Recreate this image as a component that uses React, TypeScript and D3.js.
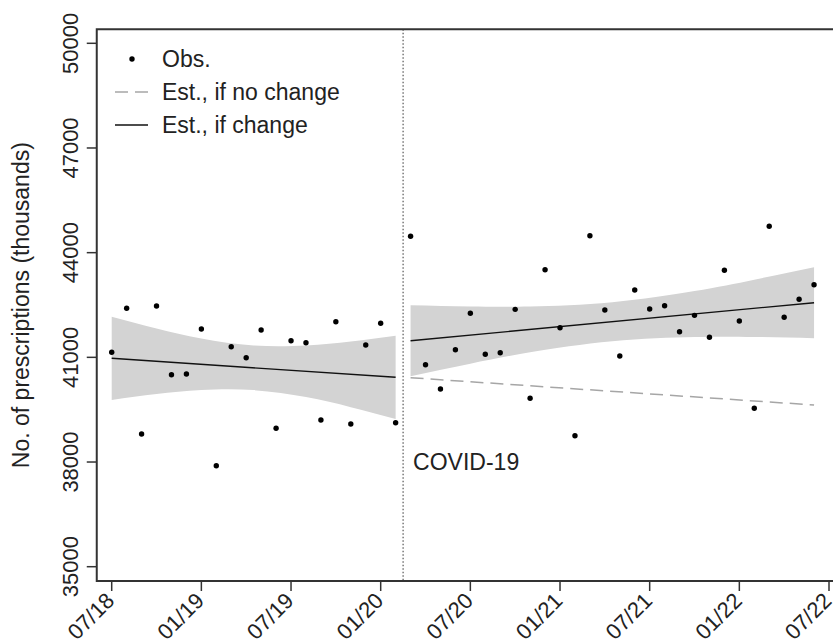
import React, { useEffect, useRef } from "react";
import * as d3 from "d3";

// monthly observations, 07/18 .. 02/20 (before) and 03/20 .. 06/22 (after)
const obsBefore = [
  41144, 42405, 38803, 42471, 40502, 40522, 41812, 37894, 41305, 40989,
  41783, 38966, 41477, 41419, 39204, 42021, 39089, 41353, 41975, 39126,
];
const obsAfter = [
  44469, 40789, 40092, 41219, 42262, 41087, 41133, 42376, 39826, 43511,
  41849, 38754, 44486, 42356, 41038, 42930, 42385, 42480, 41735, 42204,
  41574, 43494, 42041, 39539, 44755, 42147, 42663, 43081,
];

const tickLabels = ["07/18", "01/19", "07/19", "01/20", "07/20", "01/21", "07/21", "01/22", "07/22"];
const yTicks = [35000, 38000, 41000, 44000, 47000, 50000];

// fitted lines (month index -> value)
const fitBeforeX = [0, 19];
const fitBeforeY = [40972, 40428];
const fitAfterX = [20, 47];
const fitAfterY = [41477, 42566];
const noChangeY = [40416, 39634];

// confidence bands
const bandBeforeX = [0, 3, 6, 9.5, 13, 16, 19];
const bandBeforeHi = [42164, 41826, 41540, 41339, 41339, 41453, 41620];
const bandBeforeLo = [39780, 39946, 40061, 40061, 39860, 39573, 39235];
const bandAfterX = [20, 24, 28, 33.5, 39, 43, 47];
const bandAfterHi = [42494, 42457, 42457, 42580, 42898, 43225, 43583];
const bandAfterLo = [40459, 40817, 41144, 41462, 41585, 41585, 41548];

const breakAt = 19.5;

const App = () => {
  const svgRef = useRef<SVGSVGElement>(null);

  useEffect(() => {
    const width = 833;
    const height = 639;
    const font = "'Liberation Sans', Arial, sans-serif";

    const svg = d3.select(svgRef.current);
    svg.selectAll("*").remove();
    svg.attr("width", width).attr("height", height);

    const x = d3.scaleLinear().domain([0, 48]).range([111.7, 829]);
    const y = d3.scaleLinear().domain([35000, 50000]).range([566.7, 43.3]);

    const boxLeft = x(-1);
    const boxRight = x(49);
    const boxTop = 29.3;
    const boxBottom = 581;

    // bands
    const band = (xs: number[], hi: number[], lo: number[]) =>
      d3.area<number>()
        .x((d, i) => x(xs[i]))
        .y0((d, i) => y(lo[i]))
        .y1((d, i) => y(hi[i]))
        .curve(d3.curveNatural)(hi);

    svg.append("path")
      .attr("d", band(bandBeforeX, bandBeforeHi, bandBeforeLo))
      .attr("fill", "#d3d3d3");
    svg.append("path")
      .attr("d", band(bandAfterX, bandAfterHi, bandAfterLo))
      .attr("fill", "#d3d3d3");

    const line = (xs: number[], ys: number[]) =>
      d3.line<number>().x((d, i) => x(xs[i])).y(d => y(d))(ys);

    svg.append("path")
      .attr("d", line(fitAfterX, noChangeY))
      .attr("fill", "none")
      .attr("stroke", "#a6a6a6")
      .attr("stroke-width", 1.5)
      .attr("stroke-dasharray", "13,7");

    svg.append("path")
      .attr("d", line(fitBeforeX, fitBeforeY))
      .attr("fill", "none")
      .attr("stroke", "#111")
      .attr("stroke-width", 1.4);
    svg.append("path")
      .attr("d", line(fitAfterX, fitAfterY))
      .attr("fill", "none")
      .attr("stroke", "#111")
      .attr("stroke-width", 1.4);

    // break line
    svg.append("line")
      .attr("x1", x(breakAt)).attr("x2", x(breakAt))
      .attr("y1", boxTop).attr("y2", boxBottom)
      .attr("stroke", "#555")
      .attr("stroke-width", 1.2)
      .attr("stroke-dasharray", "1.5,2");

    svg.append("text")
      .attr("x", x(breakAt) + 10)
      .attr("y", y(37770))
      .style("font-family", font)
      .style("font-size", "23px")
      .attr("fill", "#222")
      .text("COVID-19");

    // points
    const obs = [
      ...obsBefore.map((v, i) => ({ m: i, v })),
      ...obsAfter.map((v, i) => ({ m: i + obsBefore.length, v })),
    ];
    svg.selectAll("circle.obs")
      .data(obs)
      .enter()
      .append("circle")
      .attr("class", "obs")
      .attr("cx", d => x(d.m))
      .attr("cy", d => y(d.v))
      .attr("r", 2.7)
      .attr("fill", "#000");

    // frame
    svg.append("path")
      .attr("d", `M${boxRight},${boxTop}H${boxLeft}V${boxBottom}H${boxRight}`)
      .attr("fill", "none")
      .attr("stroke", "#333")
      .attr("stroke-width", 2);

    // y axis
    yTicks.forEach(t => {
      svg.append("line")
        .attr("x1", boxLeft - 10).attr("x2", boxLeft)
        .attr("y1", y(t)).attr("y2", y(t))
        .attr("stroke", "#333").attr("stroke-width", 1.5);
      svg.append("text")
        .attr("transform", `translate(78,${y(t)}) rotate(-90)`)
        .attr("text-anchor", "middle")
        .style("font-family", font)
        .style("font-size", "22px")
        .attr("fill", "#222")
        .text(t);
    });

    svg.append("text")
      .attr("transform", `translate(29,${(boxTop + boxBottom) / 2}) rotate(-90)`)
      .attr("text-anchor", "middle")
      .style("font-family", font)
      .style("font-size", "23px")
      .attr("fill", "#222")
      .text("No. of prescriptions (thousands)");

    // x axis
    tickLabels.forEach((lab, i) => {
      const xp = x(i * 6);
      svg.append("line")
        .attr("x1", xp).attr("x2", xp)
        .attr("y1", boxBottom).attr("y2", boxBottom + 10)
        .attr("stroke", "#333").attr("stroke-width", 1.5);
      svg.append("text")
        .attr("transform", `translate(${xp + 4},${boxBottom + 21}) rotate(-45)`)
        .attr("text-anchor", "end")
        .style("font-family", font)
        .style("font-size", "22px")
        .attr("fill", "#222")
        .text(lab);
    });

    // legend
    const legend = svg.append("g").attr("transform", "translate(115,59)");
    legend.append("circle").attr("cx", 17).attr("cy", 0).attr("r", 2.7).attr("fill", "#000");
    legend.append("line")
      .attr("x1", 0).attr("x2", 33).attr("y1", 33).attr("y2", 33)
      .attr("stroke", "#a6a6a6").attr("stroke-width", 1.5).attr("stroke-dasharray", "13,7");
    legend.append("line")
      .attr("x1", 0).attr("x2", 33).attr("y1", 66).attr("y2", 66)
      .attr("stroke", "#111").attr("stroke-width", 1.4);
    ["Obs.", "Est., if no change", "Est., if change"].forEach((t, i) => {
      legend.append("text")
        .attr("x", 47)
        .attr("y", i * 33 + 8)
        .style("font-family", font)
        .style("font-size", "23px")
        .attr("fill", "#222")
        .text(t);
    });
  }, []);

  return (
    <div style={{ position: "absolute", left: 0, top: 0 }}>
      <svg ref={svgRef} style={{ display: "block", background: "#fff" }}></svg>
    </div>
  );
};

export default App;
